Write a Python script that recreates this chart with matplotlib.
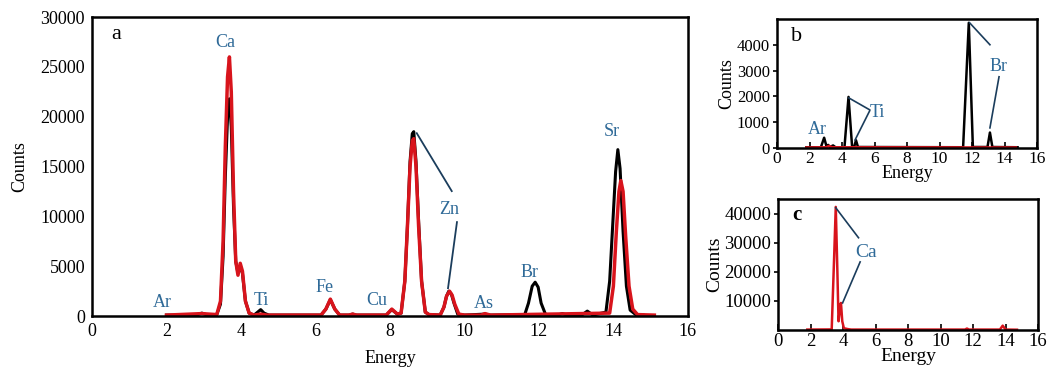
import matplotlib
matplotlib.use("Agg")
import matplotlib.pyplot as plt

plt.rcParams['font.family'] = ['Liberation Serif', 'DejaVu Serif']

# ---- panel a : two spectra (energy, counts) ----
a_black_e = [2.0, 2.8, 2.95, 3.1, 3.35, 3.45, 3.52, 3.58, 3.64, 3.69, 3.74, 3.8, 3.86, 3.92,
             3.98, 4.04, 4.12, 4.22, 4.35, 4.45, 4.53, 4.62, 4.75, 6.15, 6.28, 6.4, 6.52,
             6.65, 6.9, 7.0, 7.1, 7.9, 8.05, 8.2, 8.3, 8.4, 8.47, 8.54, 8.6, 8.64, 8.7, 8.77,
             8.85, 8.95, 9.05, 9.35, 9.45, 9.52, 9.58, 9.65, 9.72, 9.82, 10.0, 10.55, 10.7,
             11.62, 11.72, 11.82, 11.9, 11.98, 12.06, 12.18, 12.5, 12.63, 12.76, 13.15, 13.3,
             13.45, 13.8, 13.9, 13.98, 14.06, 14.12, 14.18, 14.26, 14.35, 14.45, 14.6, 14.8]
a_black_c = [100, 100, 300, 100, 150, 1200, 6000, 14000, 20000, 21800, 19000, 11000, 5500, 4300,
             5000, 4300, 1500, 300, 100, 400, 650, 300, 100, 100, 700, 1650, 700,
             100, 100, 200, 100, 100, 650, 200, 300, 3500, 9000, 15500, 18300, 18500, 15500, 9500,
             3500, 400, 150, 100, 900, 2000, 2500, 2200, 1300, 200, 100, 200, 100,
             150, 1300, 3000, 3400, 2900, 1300, 150, 100, 250, 100, 100, 500,
             100, 400, 3500, 9000, 14500, 16700, 14800, 8500, 3000, 600, 150, 100]

a_red_e = [2.0, 2.95, 3.35, 3.45, 3.52, 3.58, 3.64, 3.69, 3.74, 3.8, 3.86, 3.92, 3.98, 4.04,
           4.12, 4.22, 4.35, 4.53, 4.7, 6.15, 6.28, 6.4, 6.52, 6.65, 6.9, 7.0, 7.1, 7.9, 8.05,
           8.2, 8.3, 8.4, 8.47, 8.54, 8.6, 8.64, 8.7, 8.77, 8.85, 8.95, 9.05, 9.35, 9.45,
           9.52, 9.6, 9.67, 9.74, 9.85, 10.0, 10.45, 10.55, 10.7, 13.9, 14.0, 14.08, 14.15,
           14.2, 14.26, 14.33, 14.42, 14.52, 14.65, 15.1]
a_red_c = [100, 250, 150, 1500, 7500, 17000, 24000, 26000, 22500, 12500, 5500, 4100, 5300, 4500,
           1500, 300, 100, 200, 100, 100, 700, 1700, 700, 100, 100, 200, 100, 100, 700,
           200, 300, 3500, 9000, 15000, 17600, 17800, 15000, 9000, 3500, 400, 150, 100, 900,
           2000, 2500, 2100, 1200, 200, 100, 100, 250, 100, 300, 3000, 8500, 12500,
           13600, 12500, 8000, 3000, 700, 150, 100]

# ---- panel b ----
b_black_e = [1.8, 2.7, 2.9, 3.05, 3.15, 3.25, 3.45, 3.6, 4.15, 4.4, 4.62, 4.75, 4.86, 4.98,
             11.45, 11.8, 12.05, 12.95, 13.1, 13.25, 14.8]
b_black_c = [30, 30, 400, 50, 120, 40, 100, 30, 30, 1980, 50, 50, 300, 40,
             30, 4850, 40, 40, 600, 40, 30]
b_red_e = [1.8, 3.0, 3.2, 3.4, 14.7]
b_red_c = [20, 30, 80, 30, 20]

# ---- panel c ----
c_red_e = [1.8, 3.3, 3.45, 3.55, 3.65, 3.72, 3.8, 3.87, 3.95, 4.05, 4.3, 4.5, 11.5, 11.62,
           11.75, 13.65, 13.82, 14.0, 14.7]
c_red_c = [150, 200, 25000, 42300, 20000, 3000, 7000, 9300, 3000, 600, 300, 150, 150, 500,
           150, 150, 1500, 150, 100]

# element labels (text, x, y)
a_labels = [("Ar", 1.9, 1400), ("Ca", 3.57, 27400), ("Ti", 4.55, 1600), ("Fe", 6.25, 2900),
            ("Cu", 7.65, 1600), ("Zn", 9.6, 10700), ("As", 10.52, 1300), ("Br", 11.76, 4400),
            ("Sr", 13.96, 18500)]

RED = "#d8141c"
LBL = "#2f6a98"
LINE = "#1b3d5c"

fig = plt.figure(figsize=(10.55, 3.71), dpi=100)
ax_a = fig.add_axes([0.0872, 0.148, 0.5648, 0.806])
ax_b = fig.add_axes([0.7365, 0.601, 0.2465, 0.348])
ax_c = fig.add_axes([0.7375, 0.1105, 0.2465, 0.353])

for ax in (ax_a, ax_b, ax_c):
    for s in ax.spines.values():
        s.set_linewidth(1.8)
    ax.set_xlim(0, 16)
    ax.set_xticks(range(0, 17, 2))
    ax.set_ylabel("Counts", fontsize=12)
    ax.tick_params(labelsize=12)

# panel a
ax_a.plot(a_black_e, a_black_c, color="black", lw=2.2)
ax_a.plot(a_red_e, a_red_c, color=RED, lw=2.5)
ax_a.set_ylim(0, 30000)
ax_a.set_yticks(range(0, 30001, 5000))
ax_a.tick_params(length=0, pad=5, labelsize=13)
ax_a.set_xlabel("Energy", fontsize=13, labelpad=7)
ax_a.set_ylabel("Counts", fontsize=13, labelpad=9)
for t, x, y in a_labels:
    ax_a.text(x, y, t, color=LBL, fontsize=13, ha="center", va="center")
ax_a.text(0.65, 28300, "a", fontsize=16, ha="center", va="center")
ax_a.plot([8.72, 9.66], [18350, 12540], color=LINE, lw=1.3)
ax_a.plot([9.8, 9.56], [9430, 2800], color=LINE, lw=1.3)

# panel b
ax_b.plot(b_black_e, b_black_c, color="black", lw=1.8)
ax_b.plot(b_red_e, b_red_c, color=RED, lw=1.8)
ax_b.set_ylim(0, 5000)
ax_b.set_yticks(range(0, 4001, 1000))
ax_b.tick_params(axis="x", direction="in", length=4, width=1.2, pad=2, labelsize=12.5)
ax_b.tick_params(axis="y", direction="out", length=3, width=1.2, pad=2)
ax_b.set_xlabel("Energy", fontsize=13, labelpad=-1)
ax_b.set_ylabel("Counts", fontsize=13, labelpad=1)
ax_b.text(1.2, 4300, "b", fontsize=16, ha="center", va="center")
ax_b.text(2.46, 700, "Ar", color=LBL, fontsize=13, ha="center", va="center")
ax_b.text(6.2, 1360, "Ti", color=LBL, fontsize=13, ha="center", va="center")
ax_b.text(13.6, 3150, "Br", color=LBL, fontsize=13, ha="center", va="center")
ax_b.plot([4.42, 5.7], [1940, 1480], color=LINE, lw=1.2)
ax_b.plot([5.7, 4.8], [1440, 310], color=LINE, lw=1.2)
ax_b.plot([11.85, 13.1], [4850, 4000], color=LINE, lw=1.2)
ax_b.plot([13.66, 13.1], [2760, 780], color=LINE, lw=1.2)

# panel c
ax_c.plot(c_red_e, c_red_c, color=RED, lw=1.8)
ax_c.set_ylim(0, 45000)
ax_c.set_yticks(range(10000, 40001, 10000))
ax_c.tick_params(axis="x", direction="in", length=4, width=1.2, pad=2, labelsize=13.5)
ax_c.tick_params(axis="y", direction="out", length=3, width=1.2, pad=2, labelsize=13.5)
ax_c.set_xlabel("Energy", fontsize=14, labelpad=-1)
ax_c.set_ylabel("Counts", fontsize=14, labelpad=1)
ax_c.text(1.15, 39600, "c", fontsize=15, fontweight="bold", ha="center", va="center")
ax_c.text(5.4, 26500, "Ca", color=LBL, fontsize=14, ha="center", va="center")
ax_c.plot([3.55, 4.95], [42000, 31700], color=LINE, lw=1.2)
ax_c.plot([5.05, 3.97], [23400, 9300], color=LINE, lw=1.2)

fig.savefig("out.png", dpi=100)
